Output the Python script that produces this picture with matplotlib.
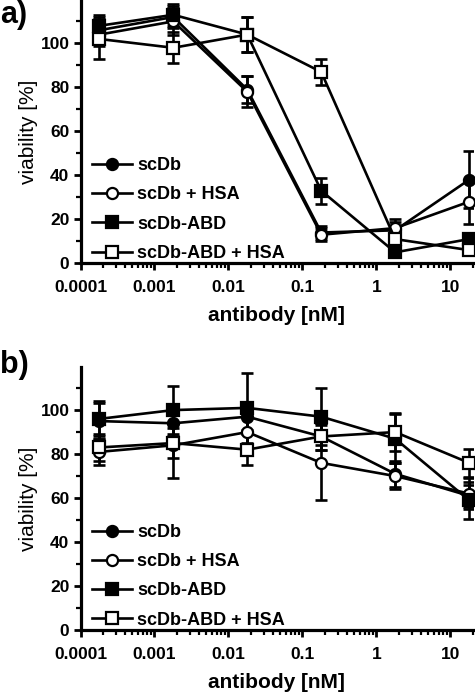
import numpy as np
import matplotlib
matplotlib.use('Agg')
import matplotlib.pyplot as plt
from matplotlib.ticker import FixedLocator, FixedFormatter, LogLocator, NullFormatter

plt.rcParams['font.family'] = ['Liberation Sans', 'DejaVu Sans']
plt.rcParams['font.weight'] = 'bold'

# antibody concentrations [nM]
conc = [1.8e-4, 1.8e-3, 0.018, 0.18, 1.8, 18]
labels = ['scDb', 'scDb + HSA', 'scDb-ABD', 'scDb-ABD + HSA']

# panel a) viability [%] and error
a_scdb = [106, 112, 79, 14, 15, 38]
a_scdb_err = [6, 5, 6, 3, 4, 13]
a_scdb_hsa = [104, 110, 78, 13, 16, 28]
a_scdb_hsa_err = [5, 6, 7, 3, 4, 10]
a_abd = [108, 113, 104, 33, 5, 11]
a_abd_err = [5, 5, 8, 6, 2, 3]
a_abd_hsa = [102, 98, 104, 87, 11, 6]
a_abd_hsa_err = [9, 7, 8, 6, 2, 2]

# panel b)
b_scdb = [95, 94, 97, 88, 71, 61]
b_scdb_err = [8, 6, 6, 6, 6, 5]
b_scdb_hsa = [81, 84, 90, 76, 70, 62]
b_scdb_hsa_err = [6, 15, 8, 17, 6, 7]
b_abd = [96, 100, 101, 97, 87, 59]
b_abd_err = [8, 11, 16, 13, 11, 8.5]
b_abd_hsa = [83, 85, 82, 88, 90, 76]
b_abd_hsa_err = [6, 7, 7, 6, 8.5, 6.5]

markers = ['o', 'o', 's', 's']
faces = ['black', 'white', 'black', 'white']
xticks = [1e-4, 1e-3, 1e-2, 1e-1, 1, 10]
xticklabels = ['0.0001', '0.001', '0.01', '0.1', '1', '10']

fig = plt.figure(figsize=(4.75, 6.93), dpi=100)
W, H = 475, 693


def panel(ax, series, errs):
    lines = []
    for y, e, m, fc, lab in zip(series, errs, markers, faces, labels):
        ax.errorbar(conc, y, yerr=e, fmt='none', ecolor='black', elinewidth=1.9,
                    capsize=4.5, capthick=1.9, zorder=2)
        ln, = ax.plot(conc, y, color='black', lw=1.9, marker=m, markersize=8,
                      markerfacecolor=fc, markeredgecolor='black', markeredgewidth=1.6,
                      label=lab, zorder=3, clip_on=False)
        lines.append(ln)
    ax.set_xscale('log')
    ax.set_xlim(1e-4, 20)
    ax.set_ylim(0, 119.5)
    ax.xaxis.set_major_locator(FixedLocator(xticks))
    ax.xaxis.set_major_formatter(FixedFormatter(xticklabels))
    ax.xaxis.set_minor_locator(LogLocator(base=10, subs=np.arange(2, 10)))
    ax.xaxis.set_minor_formatter(NullFormatter())
    ax.set_yticks([0, 20, 40, 60, 80, 100])
    ax.set_yticks([10, 30, 50, 70, 90, 110], minor=True)
    for s in ['top', 'right']:
        ax.spines[s].set_visible(False)
    for s in ['left', 'bottom']:
        ax.spines[s].set_linewidth(2.3)
    ax.tick_params(which='major', length=5, width=2, labelsize=12.5, pad=3)
    ax.tick_params(which='minor', length=3.5, width=1.6)
    ax.tick_params(axis='x', which='major', pad=7)
    ax.set_xlabel('antibody [nM]', fontsize=15, fontweight='bold', labelpad=8)
    ax.set_ylabel('viability [%]', fontsize=15, fontweight='normal', labelpad=2)
    ax.legend(handles=lines, loc='lower left', bbox_to_anchor=(0.03, 0.005),
              frameon=False, fontsize=13, handlelength=2.2, handletextpad=0.3,
              labelspacing=0.68, borderpad=0, borderaxespad=0, numpoints=1)


ax1 = fig.add_axes([80.5 / W, (H - 263.3) / H, 392 / W, 262.8 / H])
panel(ax1, [a_scdb, a_scdb_hsa, a_abd, a_abd_hsa],
      [a_scdb_err, a_scdb_hsa_err, a_abd_err, a_abd_hsa_err])

ax2 = fig.add_axes([80.5 / W, (H - 630) / H, 392 / W, 262.8 / H])
panel(ax2, [b_scdb, b_scdb_hsa, b_abd, b_abd_hsa],
      [b_scdb_err, b_scdb_hsa_err, b_abd_err, b_abd_hsa_err])

fig.text(0.0, 1.0, 'a)', fontsize=22, fontweight='bold', va='top', ha='left')
fig.text(0.0, 1 - 350 / H, 'b)', fontsize=22, fontweight='bold', va='top', ha='left')

fig.savefig('out.png', dpi=100)
